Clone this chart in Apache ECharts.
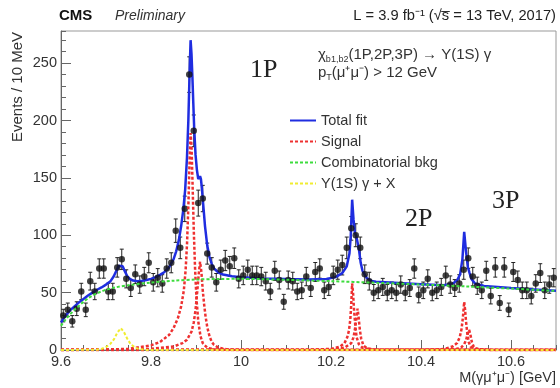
<!DOCTYPE html>
<html>
<head>
<meta charset="utf-8">
<script src="https://cdn.jsdelivr.net/npm/echarts@6/dist/echarts.min.js"></script>
<style>
  html, body { margin: 0; padding: 0; background: #fff; }
  #chart { width: 560px; height: 388px; }
</style>
</head>
<body>
<div id="chart"></div>
<script>
// Histogram binning: 10 MeV bins starting at 9.6 GeV
const BIN_START = 9.6;
const BIN_WIDTH = 0.01;

// Events per bin
const counts = [
  30, 35, 25, 36, 51, 35, 60, 51, 71, 71,
  51, 51, 72, 79, 62, 54, 66, 57, 64, 76,
  59, 63, 58, 71, 76, 104, 89, 123, 240, 191,
  128, 132, 84, 72, 59, 70, 78, 73, 80, 62,
  65, 70, 65, 65, 64, 60, 51, 69, 61, 42,
  61, 60, 51, 52, 64, 54, 68, 71, 52, 55,
  65, 70, 74, 89, 106, 100, 89, 66, 60, 50,
  52, 55, 50, 52, 50, 57, 50, 54, 71, 48,
  52, 62, 50, 52, 55, 65, 57, 54, 58, 70,
  80, 64, 56, 52, 69, 47, 72, 41, 72, 35,
  68, 61, 52, 52, 47, 58, 67, 52, 57, 63
];

// Total fit curve
const fitMass = [
  9.600, 9.610, 9.620, 9.630, 9.640, 9.650, 9.660, 9.670, 9.680, 9.690,
  9.700, 9.710, 9.717, 9.723, 9.729, 9.733, 9.737, 9.742, 9.747, 9.753,
  9.760, 9.770, 9.780, 9.790, 9.800, 9.810, 9.820, 9.830, 9.840, 9.850,
  9.856, 9.862, 9.867, 9.872, 9.876, 9.880, 9.883, 9.886, 9.888, 9.890,
  9.892, 9.894, 9.896, 9.899, 9.902, 9.905, 9.907, 9.909, 9.911, 9.913,
  9.916, 9.920, 9.925, 9.930, 9.935, 9.940, 9.950, 9.960, 9.980, 10.000,
  10.050, 10.100, 10.150, 10.190, 10.210, 10.225, 10.235, 10.241, 10.244, 10.247,
  10.250, 10.253, 10.256, 10.259, 10.262, 10.266, 10.270, 10.280, 10.290, 10.300,
  10.350, 10.400, 10.450, 10.470, 10.480, 10.487, 10.492, 10.496, 10.500, 10.504,
  10.508, 10.512, 10.520, 10.540, 10.600, 10.650, 10.700
];
const fitVals = [
  24, 30, 34.5, 38, 41.5, 44.5, 47.5, 50, 52.5, 54.5,
  57, 60, 64, 69, 73.5, 74.5, 73, 68.5, 64.5, 62,
  60.5, 60, 60.3, 61, 62, 63.5, 65.5, 68, 72, 79,
  86, 96, 108, 123, 140, 168, 200, 245, 270, 258,
  238, 215, 193, 170, 157, 149, 150, 151.5, 149, 141,
  127, 108, 91, 81, 75, 71, 67.5, 65.8, 64.3, 63.4,
  62.4, 61.8, 61.4, 61.8, 63.5, 67, 73, 84, 100, 131,
  114, 102, 99.5, 98, 88, 76, 69, 62.5, 60.2, 59.5,
  58.4, 57.4, 56.4, 57.8, 60.5, 66, 79, 103, 86, 72.5,
  67, 62, 58, 55.8, 54, 52.8, 51.6
];

// Combinatorial background
const bkgMass = [
  9.60, 9.61, 9.62, 9.63, 9.64, 9.65, 9.66, 9.67, 9.68, 9.69,
  9.70, 9.72, 9.75, 9.80, 9.85, 9.90, 9.95, 10.00, 10.05, 10.10,
  10.20, 10.30, 10.40, 10.50, 10.60, 10.70
];
const bkgVals = [
  21, 26.5, 31, 35, 38.5, 42, 45, 47.5, 49.5, 51,
  52.5, 54.5, 56.5, 58.8, 60.4, 61.4, 61.9, 62, 61.7, 61.2,
  60, 58.6, 57.1, 55.4, 53.5, 51.5
];

// Y(1S) gamma + X component
const feedMass = [9.60, 9.68, 9.69, 9.70, 9.71, 9.718, 9.725, 9.733, 9.740, 9.747, 9.755, 9.765, 9.775, 9.79, 10.70];
const feedVals = [0, 0.3, 1, 2.5, 5.5, 9.5, 15, 19, 15.5, 10, 5, 2, 0.7, 0.1, 0];

// Signal components: chi_b1 and chi_b2 for 1P, 2P, 3P
const sig1PaMass = [9.60, 9.70, 9.75, 9.80, 9.82, 9.84, 9.85, 9.86, 9.867, 9.873, 9.877, 9.880, 9.883, 9.886, 9.888, 9.890, 9.892, 9.895, 9.898, 9.901, 9.905, 9.910, 9.915, 9.925, 9.94, 9.97, 10.70];
const sig1PaVals = [0, 0.3, 1, 4, 7, 13, 19, 28, 38, 52, 70, 92, 125, 168, 189, 178, 150, 105, 70, 45, 25, 12, 6, 2, 0.5, 0, 0];
const sig1PbMass = [9.60, 9.80, 9.85, 9.87, 9.88, 9.89, 9.895, 9.899, 9.903, 9.906, 9.909, 9.912, 9.915, 9.918, 9.921, 9.925, 9.930, 9.935, 9.940, 9.950, 9.970, 10.00, 10.70];
const sig1PbVals = [0, 1, 3, 6, 9, 16, 24, 35, 52, 66, 77, 68, 52, 40, 30, 20, 12, 7, 4.5, 2, 0.5, 0, 0];
const sig2PaMass = [9.60, 10.15, 10.20, 10.22, 10.23, 10.236, 10.240, 10.243, 10.245, 10.247, 10.249, 10.251, 10.254, 10.257, 10.262, 10.270, 10.290, 10.70];
const sig2PaVals = [0, 0, 1, 3, 6, 11, 17, 27, 40, 58, 50, 36, 21, 11, 5, 2, 0.3, 0];
const sig2PbMass = [9.60, 10.20, 10.23, 10.245, 10.250, 10.254, 10.257, 10.259, 10.261, 10.264, 10.267, 10.272, 10.280, 10.300, 10.70];
const sig2PbVals = [0, 0.3, 2, 6, 11, 20, 30, 36, 30, 18, 10, 4, 1.5, 0.3, 0];
const sig3PaMass = [9.60, 10.40, 10.45, 10.47, 10.48, 10.486, 10.490, 10.493, 10.496, 10.498, 10.500, 10.503, 10.506, 10.510, 10.520, 10.550, 10.70];
const sig3PaVals = [0, 0, 0.8, 3, 6, 11, 18, 28, 42, 35, 25, 14, 7, 3, 1, 0, 0];
const sig3PbMass = [9.60, 10.45, 10.48, 10.49, 10.496, 10.500, 10.503, 10.507, 10.510, 10.513, 10.517, 10.525, 10.550, 10.70];
const sig3PbVals = [0, 0, 1, 2.5, 5, 8.5, 13, 17.5, 13, 7, 3, 1, 0, 0];

// Axis tick labels
const xTickLabels = ['9.6', '9.8', '10', '10.2', '10.4', '10.6'];
const yTickLabels = ['0', '50', '100', '150', '200', '250'];

const FONT = '"Liberation Sans", Arial, Helvetica, sans-serif';
const TEXT = '#333';
const AXIS = '#666';

const pairs = (xs, ys) => xs.map((x, i) => [x, ys[i]]);
const dataPts = counts.map((n, i) => [BIN_START + BIN_WIDTH * (i + 0.5), n, Math.sqrt(n)]);

const dotted = (color, width) => ({ color: color, width: width, type: [3, 2] });

const signalSeries = [
  [sig1PaMass, sig1PaVals], [sig1PbMass, sig1PbVals],
  [sig2PaMass, sig2PaVals], [sig2PbMass, sig2PbVals],
  [sig3PaMass, sig3PaVals], [sig3PbMass, sig3PbVals]
].map(([m, v]) => ({
  name: 'Signal', type: 'line', data: pairs(m, v), symbol: 'none',
  color: '#ee3030', lineStyle: dotted('#ee3030', 2.5), z: 4, silent: true
}));

const chart = echarts.init(document.getElementById('chart'), null, { renderer: 'canvas' });

const option = {
  animation: false,
  grid: { left: 61, right: 4, top: 31, bottom: 38, show: true, borderColor: '#999', borderWidth: 1, backgroundColor: 'transparent' },
  xAxis: [
    {
      type: 'value', min: 9.6, max: 10.7, interval: 0.2,
      axisLine: { show: true, onZero: false, lineStyle: { color: AXIS, width: 1 } },
      axisTick: { show: true, inside: true, length: 10, lineStyle: { color: AXIS } },
      axisLabel: {
        show: true, margin: 4, color: TEXT, fontFamily: FONT, fontSize: 14.5, showMaxLabel: false,
        formatter: (v) => {
          const idx = Math.round((v - 9.6) / 0.2);
          return xTickLabels[idx] !== undefined ? xTickLabels[idx] : '';
        }
      },
      splitLine: { show: false }
    },
    {
      type: 'value', min: 9.6, max: 10.7, interval: 0.05, position: 'bottom',
      axisLine: { show: false },
      axisTick: { show: true, inside: true, length: 5, lineStyle: { color: AXIS } },
      axisLabel: { show: false },
      splitLine: { show: false }
    }
  ],
  yAxis: [
    {
      type: 'value', min: 0, max: 278, interval: 50,
      axisLine: { show: true, onZero: false, lineStyle: { color: AXIS, width: 1 } },
      axisTick: { show: true, inside: true, length: 10, lineStyle: { color: AXIS } },
      axisLabel: {
        show: true, margin: 4, color: TEXT, fontFamily: FONT, fontSize: 14.5, showMaxLabel: false,
        formatter: (v) => {
          const idx = Math.round(v / 50);
          return (Math.abs(v - idx * 50) < 1e-6 && yTickLabels[idx] !== undefined) ? yTickLabels[idx] : '';
        }
      },
      splitLine: { show: false }
    },
    {
      type: 'value', min: 0, max: 278, interval: 10, position: 'left',
      axisLine: { show: false },
      axisTick: { show: true, inside: true, length: 5, lineStyle: { color: AXIS } },
      axisLabel: { show: false },
      splitLine: { show: false }
    }
  ],
  legend: {
    data: ['Total fit', 'Signal', 'Combinatorial bkg', 'Y(1S) γ + X'],
    orient: 'vertical', left: 289, top: 113, padding: 0,
    itemWidth: 26, itemHeight: 14, itemGap: 6,
    itemStyle: { opacity: 0 },
    textStyle: { color: TEXT, fontFamily: FONT, fontSize: 14.5 },
    selectedMode: false
  },
  series: [
    {
      name: 'Data errors', type: 'custom', z: 2, silent: true,
      data: dataPts,
      renderItem: (params, api) => {
        const x = api.value(0), y = api.value(1), e = api.value(2);
        const top = api.coord([x, y + e]);
        const bot = api.coord([x, y - e]);
        const st = { stroke: '#222', lineWidth: 1 };
        return {
          type: 'group',
          children: [
            { type: 'line', shape: { x1: top[0], y1: top[1], x2: bot[0], y2: bot[1] }, style: st },
            { type: 'line', shape: { x1: top[0] - 2, y1: top[1], x2: top[0] + 2, y2: top[1] }, style: st },
            { type: 'line', shape: { x1: bot[0] - 2, y1: bot[1], x2: bot[0] + 2, y2: bot[1] }, style: st }
          ]
        };
      }
    },
    {
      name: 'Data', type: 'scatter', z: 3, silent: true,
      data: dataPts.map(p => [p[0], p[1]]),
      symbol: 'circle', symbolSize: 6.5,
      itemStyle: { color: '#111' }
    },
    {
      name: 'Total fit', type: 'line', z: 3, silent: true,
      data: pairs(fitMass, fitVals), symbol: 'none',
      color: '#1f2de0', lineStyle: { color: '#1f2de0', width: 2.5 }
    },
    ...signalSeries,
    {
      name: 'Combinatorial bkg', type: 'line', z: 5, silent: true,
      data: pairs(bkgMass, bkgVals), symbol: 'none', smooth: 0.3,
      color: '#3ddc3d', lineStyle: dotted('#3ddc3d', 2)
    },
    {
      name: 'Y(1S) γ + X', type: 'line', z: 5, silent: true,
      data: pairs(feedMass, feedVals), symbol: 'none',
      color: '#f0ec30', lineStyle: dotted('#f0ec30', 2)
    }
  ],
  graphic: [
    { type: 'text', left: 59, top: 8, style: { text: 'CMS', font: 'bold 15px ' + FONT, fill: '#111' } },
    { type: 'text', left: 115, top: 9, style: { text: 'Preliminary', font: 'italic 14px ' + FONT, fill: '#333' } },
    { type: 'text', x: 556, y: 16, style: { text: 'L = 3.9 fb⁻¹ (√s̅ = 13 TeV, 2017)', font: '14.7px ' + FONT, fill: '#222', align: 'right', verticalAlign: 'middle' } },
    {
      type: 'text', x: 318, y: 46,
      style: {
        text: '{m|χ}{s|b1,b2}{m|(1P,2P,3P) → Υ(1S) γ}',
        fill: '#333',
        rich: {
          m: { fontFamily: FONT, fontSize: 15, fill: '#333', lineHeight: 18 },
          s: { fontFamily: FONT, fontSize: 9, fill: '#333', lineHeight: 9, verticalAlign: 'bottom' }
        }
      }
    },
    {
      type: 'text', x: 318, y: 64,
      style: {
        text: '{m|p}{s|T}{m|(μ⁺μ⁻) > 12 GeV}',
        fill: '#333',
        rich: {
          m: { fontFamily: FONT, fontSize: 15, fill: '#333', lineHeight: 18 },
          s: { fontFamily: FONT, fontSize: 9, fill: '#333', lineHeight: 9, verticalAlign: 'bottom' }
        }
      }
    },
    { type: 'text', x: 250, y: 70, style: { text: '1P', font: '26px "Liberation Serif", "Times New Roman", serif', fill: '#222', verticalAlign: 'middle' } },
    { type: 'text', x: 405, y: 219, style: { text: '2P', font: '26px "Liberation Serif", "Times New Roman", serif', fill: '#222', verticalAlign: 'middle' } },
    { type: 'text', x: 492, y: 201, style: { text: '3P', font: '26px "Liberation Serif", "Times New Roman", serif', fill: '#222', verticalAlign: 'middle' } },
    { type: 'text', x: 18, y: 32, rotation: Math.PI / 2, style: { text: 'Events / 10 MeV', font: '15px ' + FONT, fill: TEXT, align: 'right', verticalAlign: 'middle' } },
    { type: 'text', x: 556, y: 378, style: { text: 'M(γμ⁺μ⁻) [GeV]', font: '14.5px ' + FONT, fill: TEXT, align: 'right', verticalAlign: 'middle' } }
  ]
};

chart.setOption(option);
</script>
</body>
</html>
